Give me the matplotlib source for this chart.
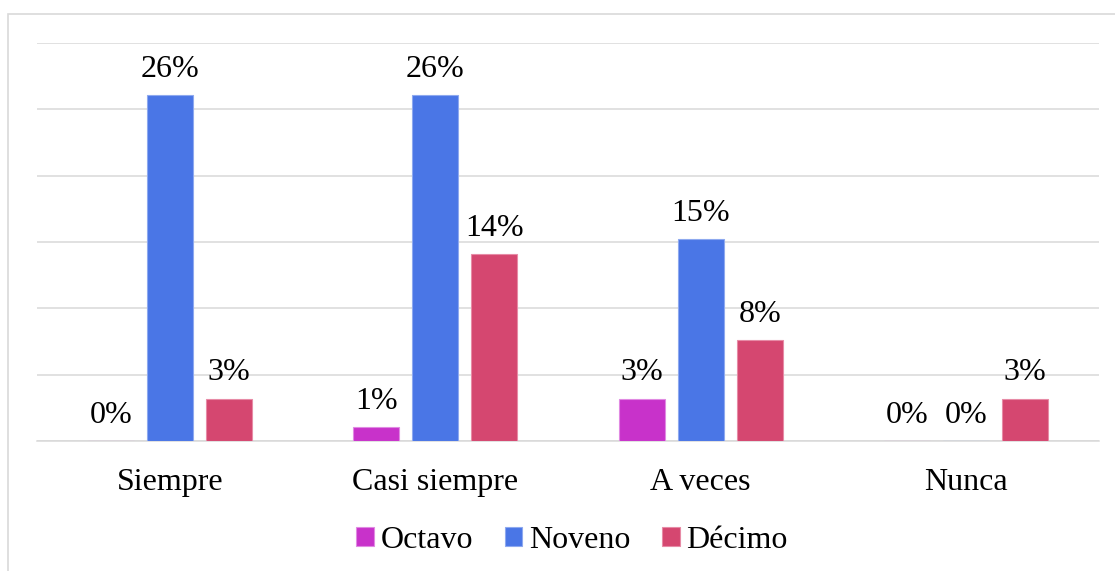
#!/usr/bin/env python
# -*- coding: utf-8 -*-
"""Grouped bar chart: frequency by grade (Octavo / Noveno / Décimo)."""

import matplotlib

matplotlib.use("Agg")
import matplotlib.pyplot as plt
import numpy as np
from matplotlib.patches import Rectangle

categories = ["Siempre", "Casi siempre", "A veces", "Nunca"]
series_names = ["Octavo", "Noveno", "Décimo"]
octavo = [0.0, 1.03, 3.2, 0.0]
noveno = [26.1, 26.1, 15.2, 0.0]
decimo = [3.2, 14.1, 7.6, 3.2]
labels_octavo = ["0%", "1%", "3%", "0%"]
labels_noveno = ["26%", "26%", "15%", "0%"]
labels_decimo = ["3%", "14%", "8%", "3%"]

COLORS = ["#C832CA", "#4A76E6", "#D54770"]
EDGES = ["#E08AE2", "#8EA9EF", "#E78BA6"]
GRID = "#D9D9D9"
FONT = 23

plt.rcParams.update({
    "font.family": ["Liberation Serif", "DejaVu Serif"],
    "font.size": FONT,
})

fig = plt.figure(figsize=(11.15, 5.71), dpi=100)
ax = fig.add_axes([37 / 1115, 1 - 441 / 571, (1099 - 37) / 1115, (441 - 43) / 571])

# outer frame of the chart area
fig.patches.append(Rectangle((8 / 1115, -0.05), 1.2, 1 - 14 / 571 + 0.05,
                             transform=fig.transFigure, fill=False,
                             edgecolor=GRID, linewidth=1.2))

x = np.arange(len(categories))
width = 0.173
pitch = 0.222
all_values = [octavo, noveno, decimo]
all_labels = [labels_octavo, labels_noveno, labels_decimo]

for i, (vals, labs) in enumerate(zip(all_values, all_labels)):
    pos = x + (i - 1) * pitch
    bars = ax.bar(pos, vals, width=width, color=COLORS[i], edgecolor=EDGES[i],
                  linewidth=0.8, label=series_names[i], zorder=3)
    for rect, lab in zip(bars, labs):
        ax.annotate(lab, (rect.get_x() + rect.get_width() / 2, rect.get_height()),
                    xytext=(0, 13), textcoords="offset points",
                    ha="center", va="baseline", fontsize=FONT)

ax.set_xlim(-0.5, len(categories) - 0.5)
ax.set_ylim(0, 30)
ax.set_yticks(np.arange(0, 31, 5))
ax.yaxis.grid(True, color=GRID, linewidth=1.1)
ax.set_axisbelow(True)
ax.tick_params(axis="y", left=False, labelleft=False)
ax.tick_params(axis="x", bottom=False, pad=16, labelsize=FONT)
ax.set_xticks(x)
ax.set_xticklabels(categories)
for side in ["top", "right", "left"]:
    ax.spines[side].set_visible(False)
ax.spines["bottom"].set_color(GRID)
ax.spines["bottom"].set_linewidth(1.1)

fig.legend(loc="center", bbox_to_anchor=(572 / 1115, 1 - 540 / 571), ncol=3,
           frameon=False, fontsize=FONT, handlelength=0.55, handleheight=0.55,
           handletextpad=0.2, columnspacing=1.0, borderpad=0)

fig.savefig("out.png", dpi=100)
